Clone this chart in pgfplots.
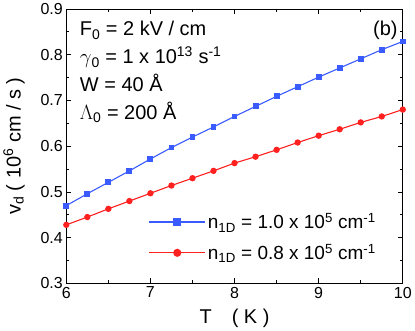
\documentclass[border=0pt]{standalone}
\usepackage{pgfplots}
\pgfplotsset{compat=1.18}
\usepackage{fontspec}
\setmainfont{Liberation Sans}
\definecolor{bl}{HTML}{3A5BFF}
\definecolor{rd}{HTML}{FF2020}
\begin{document}
\begin{tikzpicture}
\begin{axis}[
  scale only axis, width=336bp, height=274bp,
  xmin=6, xmax=10, ymin=0.3, ymax=0.9,
  xtick={6,7,8,9,10}, minor xtick={6.5,7.5,8.5,9.5},
  ytick={0.3,0.4,0.5,0.6,0.7,0.8,0.9}, minor ytick={0.35,0.45,0.55,0.65,0.75,0.85},
  tick align=inside, major tick length=5bp, minor tick length=3bp,
  tick style={black, line width=0.8pt},
  axis line style={line width=0.9pt},
  /pgf/number format/assume math mode=true,
  yticklabel style={/pgf/number format/.cd, fixed, fixed zerofill, precision=1},
  ticklabel style={font=\fontsize{16}{18}\selectfont},
  xlabel={T\quad( K )}, ylabel={v\textsubscript{d} ( 10\textsuperscript{6} cm / s )},
  label style={font=\fontsize{20}{22}\selectfont},
  xlabel style={yshift=-4bp},
  ylabel style={yshift=9bp},
  legend style={draw=none, fill=none, at={(0.235,0.27)}, anchor=north west,
    font=\fontsize{19}{21}\selectfont, row sep=10bp},
  legend cell align=left,
  legend image code/.code={\draw[#1, line width=1.3pt, mark repeat=2, mark phase=2, mark options={scale=1.3}] plot coordinates {(0bp,0bp) (28bp,0bp) (56bp,0bp)};},
]
\addplot[bl, line width=1.1pt, mark=square*, mark size=2.4pt] coordinates {
(6,0.470) (6.25,0.496) (6.5,0.521) (6.75,0.546) (7,0.572) (7.25,0.597) (7.5,0.620)
(7.75,0.642) (8,0.665) (8.25,0.687) (8.5,0.709) (8.75,0.730) (9,0.751) (9.25,0.771)
(9.5,0.791) (9.75,0.811) (10,0.829)};
\addlegendentry{n\textsubscript{1D} = 1.0 x 10\textsuperscript{5} cm\textsuperscript{-1}}
\addplot[rd, line width=1.1pt, mark=*, mark size=2.6pt] coordinates {
(6,0.428) (6.25,0.445) (6.5,0.463) (6.75,0.480) (7,0.497) (7.25,0.514) (7.5,0.530)
(7.75,0.546) (8,0.563) (8.25,0.577) (8.5,0.592) (8.75,0.608) (9,0.623) (9.25,0.637)
(9.5,0.652) (9.75,0.665) (10,0.680)};
\addlegendentry{n\textsubscript{1D} = 0.8 x 10\textsuperscript{5} cm\textsuperscript{-1}}
\node[anchor=north west, align=left, font=\fontsize{20}{28}\selectfont, inner sep=0pt]
  at (rel axis cs:0.04,0.955) {F\textsubscript{0} = 2 kV / cm\\
  $\gamma$\textsubscript{0} = 1 x 10\textsuperscript{13} s\textsuperscript{-1}\\
  W = 40 Å\\
  $\Lambda$\textsubscript{0} = 200 Å};
\node[anchor=north east, font=\fontsize{20}{22}\selectfont, inner sep=0pt]
  at (rel axis cs:0.985,0.955) {(b)};
\end{axis}
\end{tikzpicture}
\end{document}
